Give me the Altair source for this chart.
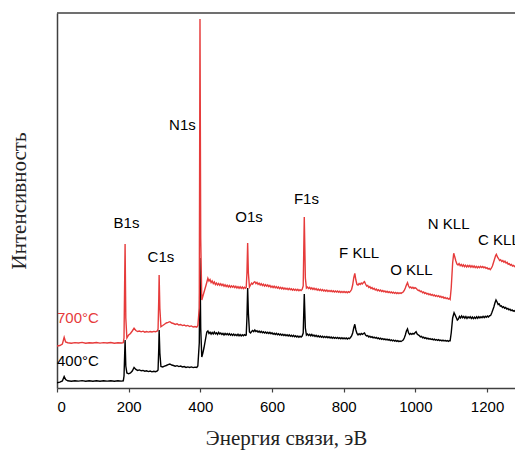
import altair as alt
import pandas as pd

# XPS survey spectra (binding energy, eV; intensity, arb. units) of the samples annealed at 400 °C and 700 °C
spectrum_400 = [
    (0, 5.3), (8, 5.8), (15, 7), (20, 11.5), (24, 8.5), (30, 7.2), (40, 6.8), (50, 7.3), (60, 6.9),
    (70, 7.4), (80, 6.7), (90, 7.2), (100, 6.8), (110, 7.3), (120, 6.7), (130, 7.2), (140, 6.9),
    (150, 7.3), (160, 6.8), (170, 7.2), (180, 6.9), (185, 7.2), (187, 12), (190, 48), (192, 22),
    (195, 15), (200, 14.2), (205, 15), (210, 17), (215, 20.5), (220, 18.5), (225, 17.6), (230, 18.1),
    (235, 17.2), (240, 17.6), (245, 16.8), (250, 17.2), (255, 16.4), (260, 16.9), (265, 16.2),
    (270, 16.7), (275, 16.3), (280, 17), (282, 18), (284, 40), (285, 58), (287, 35), (290, 21.5),
    (295, 21), (300, 21.8), (305, 22.5), (310, 23.4), (315, 24), (320, 23), (325, 22.5), (330, 21.8),
    (335, 22.3), (340, 21.4), (345, 21.9), (350, 21), (355, 21.4), (360, 20.5), (365, 21.1),
    (370, 20.6), (375, 21.1), (380, 20.4), (385, 20.9), (390, 20.5), (393, 22), (397, 45),
    (399, 130), (401, 60), (404, 31), (407, 35), (410, 40), (414, 48), (418, 56), (421, 57),
    (424, 54.5), (427, 55.8), (430, 53.8), (433, 55.5), (436, 54), (439, 56), (442, 54.2),
    (445, 55.2), (448, 53.6), (451, 55.6), (454, 54), (457, 55), (460, 53.5), (463, 54.6),
    (466, 53), (469, 54.5), (472, 53.2), (475, 54.4), (478, 53), (481, 54.3), (484, 52.8),
    (487, 54), (490, 52.6), (493, 53.9), (496, 52.5), (499, 53.6), (502, 52.4), (505, 53.8),
    (508, 52.2), (511, 53.4), (514, 52), (517, 53.2), (520, 52.2), (523, 53.4), (526, 52.6),
    (528, 53), (530, 70), (532, 100), (534, 75), (537, 56), (540, 55), (543, 56.5), (546, 57.5),
    (549, 56.3), (552, 58), (555, 56.5), (558, 57.3), (561, 55.8), (564, 57), (567, 55.5),
    (570, 56.6), (573, 55.2), (576, 56.3), (579, 55), (582, 56), (585, 54.7), (588, 55.8),
    (591, 54.5), (594, 55.6), (597, 54.2), (600, 55.2), (603, 53.8), (606, 54.8), (609, 53.5),
    (612, 54.6), (615, 53.2), (618, 54.3), (621, 53), (624, 54), (627, 52.8), (630, 53.8),
    (633, 52.5), (636, 53.5), (639, 52.2), (642, 53.2), (645, 52), (648, 53.1), (651, 51.8),
    (654, 52.8), (657, 51.5), (660, 52.6), (663, 51.2), (666, 52.3), (669, 51), (672, 52),
    (675, 50.8), (678, 51.8), (681, 51), (684, 52), (687, 55), (690, 94), (693, 60), (696, 53),
    (699, 54), (702, 52.6), (705, 53.6), (708, 52.2), (711, 53.5), (714, 52), (717, 53),
    (720, 51.6), (723, 52.7), (726, 51.3), (729, 52.3), (732, 51), (735, 52), (738, 50.8),
    (741, 51.8), (744, 50.6), (747, 51.6), (750, 50.4), (753, 51.5), (756, 50.2), (759, 51.2),
    (762, 50), (765, 51), (768, 49.8), (771, 50.8), (774, 49.7), (777, 50.6), (780, 49.6),
    (783, 50.5), (786, 49.4), (789, 50.3), (792, 49.3), (795, 50.2), (798, 49.2), (801, 50.1),
    (804, 49.2), (807, 50), (810, 49), (813, 49.9), (816, 49.4), (819, 50.5), (822, 52), (825, 55),
    (828, 60), (831, 63.7), (834, 58), (837, 54.5), (840, 53), (843, 54.2), (846, 53.2),
    (849, 54.5), (852, 53.6), (855, 54.4), (858, 55), (861, 53), (864, 52), (867, 52.4), (870, 51),
    (873, 51.8), (876, 50.6), (879, 51.3), (882, 50.2), (885, 50.9), (888, 49.8), (891, 50.5),
    (894, 49.4), (897, 50.1), (900, 49), (903, 49.8), (906, 48.7), (909, 49.4), (912, 48.4),
    (915, 49.1), (918, 48.1), (921, 48.8), (924, 47.8), (927, 48.5), (930, 47.5), (933, 48.2),
    (936, 47.2), (939, 47.9), (942, 46.9), (945, 47.6), (948, 46.7), (951, 47.4), (954, 46.4),
    (957, 47), (960, 46.5), (963, 47.2), (966, 48), (969, 50), (972, 53), (975, 57), (978, 59),
    (981, 55), (984, 53.5), (987, 54.5), (990, 53.6), (993, 54.6), (996, 54), (999, 55.2),
    (1002, 56.3), (1005, 54), (1008, 53), (1011, 52.5), (1014, 51.2), (1017, 51.6), (1020, 50.2),
    (1023, 50.8), (1026, 49.7), (1029, 50.3), (1032, 49.2), (1035, 49.8), (1038, 48.8),
    (1041, 49.4), (1044, 48.5), (1047, 49.1), (1050, 48.2), (1053, 48.8), (1056, 47.9),
    (1059, 48.5), (1062, 47.6), (1065, 48.3), (1068, 47.4), (1071, 48), (1074, 47.2), (1077, 47.8),
    (1080, 47), (1083, 47.6), (1086, 46.8), (1089, 47.5), (1092, 46.7), (1095, 47.3), (1097, 47.3),
    (1100, 55), (1104, 70), (1108, 75.3), (1111, 73), (1114, 70.5), (1117, 68), (1120, 69),
    (1123, 71.5), (1126, 70), (1129, 72), (1132, 70.2), (1135, 71.6), (1138, 69.8), (1141, 71.4),
    (1144, 69.6), (1147, 71.2), (1150, 70), (1153, 71.3), (1156, 69.5), (1159, 71), (1162, 69.4),
    (1165, 70.8), (1168, 69.6), (1171, 71.2), (1174, 69.8), (1177, 71.4), (1180, 70), (1183, 71.3),
    (1186, 70.2), (1189, 71.6), (1192, 70.4), (1195, 71.8), (1198, 70.8), (1201, 72), (1204, 71),
    (1207, 72.3), (1210, 72.5), (1213, 75), (1216, 78), (1219, 81), (1222, 85), (1225, 88),
    (1228, 86), (1231, 83.5), (1234, 84), (1237, 81.8), (1240, 82.2), (1243, 80.5), (1246, 81.3),
    (1249, 79.8), (1252, 80.5), (1255, 79), (1258, 79.6), (1261, 78.2), (1264, 78.8), (1267, 77.4),
    (1270, 78), (1273, 76.8), (1276, 77.3), (1279, 76.3),
]

spectrum_700 = [
    (0, 42), (8, 42.5), (15, 44), (20, 50.7), (24, 46), (30, 45.3), (40, 44.8), (50, 45.4),
    (60, 45), (70, 45.6), (80, 44.8), (90, 45.3), (100, 45), (110, 45.5), (120, 44.9), (130, 45.4),
    (140, 45), (150, 45.5), (160, 44.8), (170, 45.3), (180, 45), (185, 45.3), (187, 50), (190, 144),
    (192, 70), (195, 50), (200, 53), (205, 54.5), (210, 57), (215, 59.7), (220, 57.5), (225, 56.5),
    (230, 57), (235, 56.2), (240, 56.8), (245, 55.8), (250, 56.4), (255, 55.9), (260, 56.5),
    (265, 56), (270, 56.6), (275, 56.2), (280, 57), (282, 59), (284, 90), (285, 113), (287, 80),
    (290, 61.3), (295, 62.5), (300, 63.8), (305, 65), (310, 65.6), (315, 66.3), (320, 65),
    (325, 64.5), (330, 63.6), (335, 64.2), (340, 63), (345, 63.5), (350, 62.4), (355, 63),
    (360, 62), (365, 62.6), (370, 61.5), (375, 62.1), (380, 61), (385, 61.5), (390, 60.8),
    (393, 62.5), (397, 80), (399, 369), (401, 150), (404, 88), (408, 93), (412, 98), (416, 103),
    (419, 107), (421, 109.7), (424, 107), (427, 108.5), (430, 105.5), (433, 107), (436, 104.5),
    (439, 106), (442, 103.5), (445, 105), (448, 103), (451, 104.5), (454, 102.8), (457, 104.2),
    (460, 102.5), (463, 103.8), (466, 101.8), (469, 103.2), (472, 101.5), (475, 102.8), (478, 101),
    (481, 102.5), (484, 100.8), (487, 102.2), (490, 100.8), (493, 102), (496, 100.4), (499, 101.8),
    (502, 100), (505, 101.4), (508, 99.8), (511, 101.2), (514, 99.6), (517, 101), (520, 99.5),
    (523, 100.8), (526, 99.8), (528, 100.5), (530, 115), (532, 145), (534, 115), (537, 101),
    (540, 103), (543, 104.8), (546, 103.8), (549, 105.5), (552, 106.3), (555, 104.5), (558, 105.6),
    (561, 103.6), (564, 104.8), (567, 103), (570, 104.3), (573, 102.5), (576, 103.8), (579, 102),
    (582, 103.3), (585, 101.8), (588, 103), (591, 101.4), (594, 102.6), (597, 100.8), (600, 102),
    (603, 100.5), (606, 101.8), (609, 100.2), (612, 101.4), (615, 99.8), (618, 101), (621, 99.4),
    (624, 100.6), (627, 99.2), (630, 100.4), (633, 98.9), (636, 100), (639, 98.7), (642, 99.8),
    (645, 98.4), (648, 99.6), (651, 98.2), (654, 99.3), (657, 97.9), (660, 99), (663, 97.7),
    (666, 98.8), (669, 97.5), (672, 98.6), (675, 97.3), (678, 98.3), (681, 97.4), (684, 98.5),
    (687, 102), (690, 171), (693, 110), (696, 100), (699, 101), (702, 99.5), (705, 100.6), (708, 99),
    (711, 100.2), (714, 98.6), (717, 99.8), (720, 98.3), (723, 99.4), (726, 97.9), (729, 99),
    (732, 97.6), (735, 98.7), (738, 97.3), (741, 98.4), (744, 97), (747, 98), (750, 96.8),
    (753, 97.9), (756, 96.6), (759, 97.6), (762, 96.4), (765, 97.5), (768, 96.2), (771, 97.3),
    (774, 96), (777, 97), (780, 95.9), (783, 96.9), (786, 95.7), (789, 96.8), (792, 95.6),
    (795, 96.6), (798, 95.4), (801, 96.5), (804, 95.5), (807, 96.4), (810, 95.3), (813, 96.3),
    (816, 95.6), (819, 96.8), (822, 98.5), (825, 103), (828, 110), (831, 114.7), (834, 108),
    (837, 103.5), (840, 103), (843, 104.5), (846, 103.6), (849, 105), (852, 104), (855, 105.4),
    (858, 106.3), (861, 104), (864, 102), (867, 102.6), (870, 100.5), (873, 101.4), (876, 99.6),
    (879, 100.4), (882, 98.8), (885, 99.7), (888, 98), (891, 99), (894, 97.4), (897, 98.3),
    (900, 97), (903, 97.9), (906, 96.5), (909, 97.5), (912, 96.2), (915, 97), (918, 95.8),
    (921, 96.7), (924, 95.5), (927, 96.4), (930, 95.2), (933, 96), (936, 94.9), (939, 95.8),
    (942, 94.6), (945, 95.5), (948, 94.5), (951, 95.4), (954, 94.4), (957, 95.2), (960, 94.6),
    (963, 95.4), (966, 96), (969, 97.5), (972, 100), (975, 103), (978, 105.3), (981, 102),
    (984, 100.2), (987, 101), (990, 99.8), (993, 100.8), (996, 99.5), (999, 100.4), (1002, 99.7),
    (1005, 98.5), (1008, 97.6), (1011, 97.8), (1014, 96.4), (1017, 96.8), (1020, 95.2), (1023, 96),
    (1026, 94.5), (1029, 95.3), (1032, 93.9), (1035, 94.6), (1038, 93.3), (1041, 94), (1044, 92.8),
    (1047, 93.6), (1050, 92.3), (1053, 93), (1056, 91.8), (1059, 92.6), (1062, 91.4), (1065, 92.2),
    (1068, 91), (1071, 91.7), (1074, 90.4), (1077, 91.2), (1080, 89.8), (1083, 90.5), (1086, 89.3),
    (1089, 90), (1092, 88.8), (1095, 89.5), (1097, 88.7), (1100, 100), (1104, 125), (1107, 134.7),
    (1110, 131), (1113, 127), (1116, 124), (1119, 123), (1122, 124.5), (1125, 122.3), (1128, 123.6),
    (1131, 121.8), (1134, 123.2), (1137, 121.3), (1140, 122.8), (1143, 121), (1146, 122.5),
    (1149, 121.2), (1152, 122.6), (1155, 120.8), (1158, 122.3), (1161, 120.7), (1164, 122),
    (1167, 120.4), (1170, 121.7), (1173, 120.2), (1176, 121.5), (1179, 120.3), (1182, 121.6),
    (1185, 120.4), (1188, 121.5), (1191, 120.2), (1194, 121), (1197, 119.7), (1200, 120.4),
    (1203, 119), (1206, 119.6), (1209, 118.4), (1212, 119.8), (1215, 122), (1218, 125.5),
    (1221, 129), (1224, 132.5), (1226, 133.7), (1229, 131), (1232, 129.5), (1235, 127.5),
    (1238, 128.3), (1241, 126.5), (1244, 127.4), (1247, 125.8), (1250, 126.8), (1253, 125),
    (1256, 125.7), (1259, 123.8), (1262, 124.4), (1265, 122.8), (1268, 123.5), (1271, 122),
    (1274, 122.6), (1277, 121.3), (1280, 121.8),
]

peak_names = ["B1s", "C1s", "N1s", "O1s", "F1s", "F KLL", "O KLL", "N KLL"]
peak_name_energy = [194, 290, 350, 536, 696, 843, 989, 1093]
peak_name_intensity = [165, 131, 263, 171, 189, 135, 118, 164]

edge_names = ["C KLL", "700°C", "400°C"]
edge_name_energy = [1175, 0, 0]
edge_name_intensity = [148, 70.5, 27.2]
edge_name_color = ["#000000", "#e63b3b", "#000000"]

RED = "#e63b3b"
W, H = 458, 375
E_MAX = 1278

spec_400 = pd.DataFrame(spectrum_400, columns=["E", "I"])
spec_700 = pd.DataFrame(spectrum_700, columns=["E", "I"])
peaks = pd.DataFrame({"E": peak_name_energy, "I": peak_name_intensity, "t": peak_names})
edges = pd.DataFrame({"E": edge_name_energy, "I": edge_name_intensity,
                      "t": edge_names, "c": edge_name_color})

x_scale = alt.Scale(domain=[0, E_MAX], nice=False, zero=False)
y_scale = alt.Scale(domain=[0, 375], nice=False)

x_enc = alt.X(
    "E:Q", scale=x_scale,
    axis=alt.Axis(
        title="Энергия связи, эВ",
        values=list(range(0, 1300, 100)),
        labelExpr="datum.value % 200 === 0 ? datum.label : ''",
        format="d",
        grid=False, tickSize=4, labelPadding=7,
        titleY=50, titleBaseline="middle",
    ),
)
y_enc = alt.Y(
    "I:Q", scale=y_scale,
    axis=alt.Axis(
        title="Интенсивность", labels=False, ticks=False, grid=False,
        titleX=-38, titleY=H / 2, titleAngle=-90, titleBaseline="middle",
    ),
)

line_400 = alt.Chart(spec_400).mark_line(color="#000000", strokeWidth=1.4, clip=True).encode(
    x=x_enc, y=y_enc)
line_700 = alt.Chart(spec_700).mark_line(color=RED, strokeWidth=1.4, clip=True).encode(
    x="E:Q", y="I:Q")

peak_text = alt.Chart(peaks).mark_text(
    font="Liberation Sans", fontSize=15, color="#000000", align="center", baseline="middle"
).encode(x="E:Q", y="I:Q", text="t:N")

edge_text = alt.Chart(edges).mark_text(
    font="Liberation Sans", fontSize=15, align="left", baseline="middle"
).encode(x="E:Q", y="I:Q", text="t:N", color=alt.Color("c:N", scale=None))

top_frame = alt.Chart(pd.DataFrame({"E": [0]})).mark_rule(
    color="#404040", strokeWidth=1.5
).encode(x=alt.value(0), x2=alt.value(W + 2), y=alt.value(0))

chart = (
    alt.layer(line_400, line_700, peak_text, edge_text, top_frame)
    .properties(width=W, height=H, autosize=alt.AutoSizeParams(type="none"),
                padding={"left": 57, "top": 13, "right": 0, "bottom": 62})
    .configure_view(stroke=None)
    .configure_axis(
        domainColor="#404040", domainWidth=1.5, tickColor="#404040", tickWidth=1.2,
        labelFont="Liberation Sans", labelFontSize=15, labelColor="#000000",
        titleFont="Liberation Serif", titleFontSize=21, titleFontWeight="normal",
        titleColor="#222222",
    )
)

chart.save("out.html", embed_options={"renderer": "svg", "actions": False})
